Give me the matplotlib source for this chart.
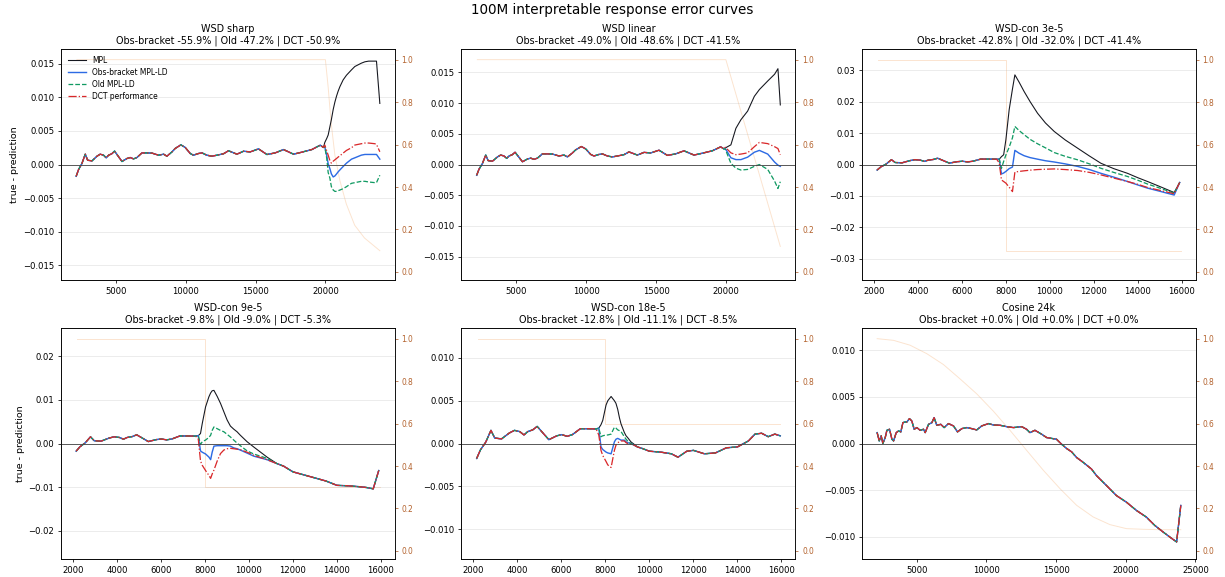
import numpy as np
import matplotlib
matplotlib.use("Agg")
import matplotlib.pyplot as plt

# ---------------- data ----------------
# shared constant-LR phase (all four curves coincide here)
const_steps = [2150, 2320, 2560, 2800, 2970, 3280, 3640, 3870, 4110, 4300, 4470, 4700, 4900,
               5070, 5430, 5790, 6020, 6260, 6500, 6860, 7220, 7580, 8050, 8410, 8650,
               9010, 9240, 9650, 9960, 10320, 10550, 10910, 11160, 11510, 11870, 12230,
               12700, 13060, 13420, 13660, 14140, 14610, 15210, 15810, 16400, 17000,
               17720, 18310, 19030, 19630, 19860]
const_err = [-0.00175, -0.00075, 0.00015, 0.00154, 0.00064, 0.00054, 0.00124, 0.00154,
             0.00139, 0.00100, 0.00139, 0.00160, 0.00200, 0.00150, 0.00045, 0.00090,
             0.00104, 0.00084, 0.00104, 0.00173, 0.00173, 0.00170, 0.00139, 0.00154,
             0.00124, 0.00188, 0.00239, 0.00293, 0.00254, 0.00164, 0.00139, 0.00164,
             0.00173, 0.00139, 0.00124, 0.00139, 0.00160, 0.00205, 0.00175, 0.00154,
             0.00198, 0.00188, 0.00233, 0.00149, 0.00173, 0.00223, 0.00154, 0.00184,
             0.00223, 0.00288, 0.00254]

# WSD sharp (after decay start)
sharp_steps = [19960, 20100, 20200, 20320, 20430, 20560, 20680, 20800, 20910, 21040, 21270,
               21510, 21870, 22110, 22580, 22830, 23100, 23540, 23660, 23900]
sharp_mpl = [0.0033, 0.0039, 0.0044, 0.0056, 0.0067, 0.0082, 0.0093, 0.0102, 0.0109, 0.0116,
             0.0126, 0.0133, 0.0141, 0.0146, 0.0151, 0.0153, 0.0154, 0.0154, 0.0154, 0.0091]
sharp_obs = [0.0026, 0.0013, 0.0001, -0.0006, -0.0014, -0.00185, -0.0017, -0.0014, -0.0011,
             -0.0008, -0.0003, 0.0002, 0.0008, 0.0010, 0.0014, 0.0015, 0.0015, 0.0015, 0.0015,
             0.0008]
sharp_old = [0.0026, 0.0009, -0.0012, -0.0020, -0.0033, -0.0038, -0.0040, -0.0040, -0.0039,
             -0.0038, -0.0036, -0.0033, -0.0028, -0.0027, -0.0025, -0.0025, -0.0026, -0.0027,
             -0.0027, -0.0016]
sharp_dct = [0.0029, 0.0020, 0.0014, 0.0006, 0.0002, 0.0005, 0.0007, 0.0009, 0.0011, 0.0013,
             0.0017, 0.0021, 0.0025, 0.0029, 0.0031, 0.0032, 0.0032, 0.0031, 0.0030, 0.0019]
sharp_lr_steps = [2200, 20000, 20200, 20400, 20680, 21040, 21500, 22100, 22800, 23900]
sharp_lr = [1.0, 1.0, 0.87, 0.71, 0.55, 0.43, 0.32, 0.22, 0.16, 0.10]

# WSD linear
linear_steps = [19960, 20360, 20720, 21080, 21560, 22040, 22400, 23000, 23490, 23730, 23900]
linear_mpl = [0.0027, 0.0032, 0.0059, 0.0073, 0.0087, 0.0111, 0.0122, 0.0136, 0.0147, 0.0156, 0.0097]
linear_obs = [0.0026, 0.0011, 0.0008, 0.0008, 0.0012, 0.0020, 0.0023, 0.0017, 0.0004, -0.0001, -0.0003]
linear_old = [0.0025, 0.0002, -0.0006, -0.0009, -0.0008, -0.0003, 0.0000, -0.0008, -0.0027, -0.0039, -0.0028]
linear_dct = [0.0028, 0.0019, 0.0016, 0.0017, 0.0019, 0.0029, 0.0036, 0.0034, 0.0029, 0.0026, 0.0016]
linear_lr_steps = [2200, 20000, 23900]
linear_lr = [1.0, 1.0, 0.12]

# WSD-con 3e-5
con3_steps = [7700, 7800, 7900, 8000, 8150, 8300, 8410, 8600, 8830, 9100, 9440, 9800, 10200,
              10700, 11260, 11800, 12320, 12900, 13530, 14000, 14440, 15000, 15650, 15900]
con3_mpl = [0.0017, 0.0025, 0.0031, 0.0078, 0.0174, 0.0240, 0.0285, 0.0262, 0.0232, 0.0200,
            0.0163, 0.0132, 0.0105, 0.0078, 0.0052, 0.0027, 0.0004, -0.0013, -0.0028, -0.0042,
            -0.0054, -0.0070, -0.0089, -0.0057]
con3_obs = [0.0017, -0.0030, -0.0027, -0.0022, -0.0013, -0.0008, 0.0045, 0.0036, 0.0028, 0.0022,
            0.0017, 0.0012, 0.0008, 0.0002, -0.0006, -0.0016, -0.0028, -0.0040, -0.0054, -0.0065,
            -0.0075, -0.0085, -0.0097, -0.0057]
con3_old = [0.0017, -0.0012, 0.0010, 0.0030, 0.0055, 0.0085, 0.0121, 0.0108, 0.0095, 0.0080,
            0.0066, 0.0053, 0.0038, 0.0026, 0.0015, 0.0002, -0.0012, -0.0025, -0.0038, -0.0050,
            -0.0062, -0.0075, -0.0091, -0.0057]
con3_dct = [0.0005, -0.0049, -0.0054, -0.0059, -0.0072, -0.0086, -0.0024, -0.0022, -0.0020, -0.0018,
            -0.0016, -0.0015, -0.0014, -0.0016, -0.0019, -0.0025, -0.0033, -0.0043, -0.0054, -0.0063,
            -0.0073, -0.0082, -0.0093, -0.0057]
con3_lr_steps = [2200, 8000, 8000, 15950]
con3_lr = [1.0, 1.0, 0.1, 0.1]

# WSD-con 9e-5
con9_steps = [7700, 7800, 7880, 8030, 8180, 8260, 8330, 8410, 8560, 8710, 8860, 9010, 9160,
              9310, 9460, 9610, 9920, 10220, 10820]
con9_mpl = [0.0018, 0.0023, 0.0046, 0.0084, 0.0107, 0.0116, 0.0121, 0.0122, 0.0108, 0.0092,
            0.0073, 0.0054, 0.0040, 0.0033, 0.0027, 0.0019, 0.0004, -0.0008, -0.0031]
con9_obs = [0.0018, -0.0017, -0.0020, -0.0024, -0.0031, -0.0037, -0.0020, -0.0006, -0.0005,
            -0.0005, -0.0005, -0.0005, -0.0006, -0.0010, -0.0012, -0.0015, -0.0022, -0.0029, -0.0037]
con9_old = [0.0018, -0.0002, 0.0004, 0.0008, 0.0014, 0.0019, 0.0030, 0.0038, 0.0034, 0.0030,
            0.0027, 0.0021, 0.0015, 0.0008, 0.0001, -0.0005, -0.0017, -0.0024, -0.0034]
con9_dct = [0.0010, -0.0040, -0.0050, -0.0062, -0.0073, -0.0080, -0.0070, -0.0061, -0.0040,
            -0.0023, -0.0015, -0.0012, -0.0011, -0.0012, -0.0013, -0.0014, -0.0020, -0.0027, -0.0037]
con9_tail_steps = [11270, 11580, 12000, 12500, 13000, 13500, 14000, 14500, 15000, 15350, 15650, 15900]
con9_tail = [-0.0046, -0.0052, -0.0065, -0.0072, -0.0079, -0.0086, -0.0096, -0.0097, -0.0099,
             -0.0101, -0.0104, -0.0062]
con9_lr_steps = [2200, 8000, 8000, 15950]
con9_lr = [1.0, 1.0, 0.3, 0.3]

# WSD-con 18e-5
con18_steps = [7700, 7800, 7880, 8030, 8110, 8260, 8410, 8480, 8560, 8640, 8710, 8860, 8940,
               9010, 9160, 9310, 9460]
con18_mpl = [0.0018, 0.0022, 0.0027, 0.0045, 0.0050, 0.0055, 0.0050, 0.0047, 0.0040, 0.0030,
             0.0023, 0.0013, 0.0009, 0.0007, 0.0002, -0.0001, -0.0004]
con18_obs = [0.0018, -0.0004, -0.0007, -0.0010, -0.0011, -0.0012, 0.0002, 0.0005, 0.0006, 0.0005,
             0.0004, 0.0004, 0.0002, 0.0001, 0.0000, -0.0002, -0.0004]
con18_old = [0.0018, 0.0008, 0.0009, 0.0010, 0.0010, 0.0011, 0.0019, 0.0018, 0.0016, 0.0015,
             0.0014, 0.0008, 0.0005, 0.0003, 0.0000, -0.0002, -0.0004]
con18_dct = [0.0010, -0.0008, -0.0014, -0.0021, -0.0025, -0.0028, -0.0008, -0.0002, 0.0001, 0.0002,
             0.0003, 0.0003, 0.0001, 0.0000, -0.0001, -0.0002, -0.0004]
con18_tail_steps = [9700, 10000, 10500, 11000, 11300, 11700, 12000, 12500, 13000, 13500, 14000,
                    14500, 14800, 15100, 15400, 15700, 15950]
con18_tail = [-0.0006, -0.0009, -0.0010, -0.0012, -0.0016, -0.0009, -0.0008, -0.0012, -0.0011,
              -0.0005, -0.0004, 0.0003, 0.0011, 0.0012, 0.0008, 0.0011, 0.0009]
con18_lr_steps = [2200, 8000, 8000, 15950]
con18_lr = [1.0, 1.0, 0.6, 0.6]

# Cosine 24k (all four curves coincide)
cos_steps = [2150, 2300, 2440, 2560, 2730, 2850, 3040, 3210, 3330, 3520, 3690, 3850, 4000,
             4160, 4280, 4470, 4640, 4810, 5000, 5240, 5480, 5600, 5840, 6080, 6240, 6430,
             6720, 6960, 7270, 7630, 7920, 8230, 8580, 8940, 9300, 9660, 10140, 10500, 10970,
             11450, 11930, 12530, 12880, 13120, 13480, 13960, 14320, 15030, 15390, 15750,
             16110, 16470, 16950, 17540, 17900, 18620, 19330, 20050, 20770, 21480, 22080,
             22680, 23160, 23650, 23950]
cos_err = [0.00117, 0.00028, 0.00082, 0.0, 0.00064, 0.00142, 0.00153, 0.00046, 0.00028, 0.00117,
           0.00135, 0.00125, 0.00224, 0.00231, 0.00231, 0.00267, 0.00242, 0.00153, 0.00171,
           0.00142, 0.00153, 0.00117, 0.00206, 0.00224, 0.00278, 0.00196, 0.00206, 0.00171,
           0.00214, 0.00189, 0.00125, 0.0016, 0.00171, 0.0016, 0.00146, 0.00189, 0.00214,
           0.00199, 0.00196, 0.00181, 0.00171, 0.00181, 0.00153, 0.00117, 0.00142, 0.0010,
           0.00064, 0.00046, -0.00007, -0.00053, -0.00089, -0.0015, -0.00203, -0.00274,
           -0.00345, -0.00452, -0.00559, -0.0063, -0.00719, -0.0079, -0.00879, -0.0095,
           -0.01004, -0.01057, -0.00665]
cos_lr_steps = [2150, 3330, 4520, 5720, 6910, 8110, 9300, 10500, 11690, 12880, 14080, 15270,
                16470, 17660, 18860, 20050, 21250, 22440, 23950]
cos_lr = [1.0, 0.992, 0.969, 0.929, 0.878, 0.81, 0.74, 0.658, 0.568, 0.474, 0.38, 0.294,
          0.215, 0.16, 0.124, 0.105, 0.102, 0.10, 0.10]

titles = ["WSD sharp", "WSD linear", "WSD-con 3e-5", "WSD-con 9e-5", "WSD-con 18e-5", "Cosine 24k"]
obs_pct = [-55.9, -49.0, -42.8, -9.8, -12.8, 0.0]
old_pct = [-47.2, -48.6, -32.0, -9.0, -11.1, 0.0]
dct_pct = [-50.9, -41.5, -41.4, -5.3, -8.5, 0.0]
ylims = [0.0172, 0.0188, 0.0367, 0.0265, 0.0135, 0.0124]
labels = ["MPL", "Obs-bracket MPL-LD", "Old MPL-LD", "DCT performance"]


# ---------------- helpers ----------------
def build(br_steps, br_vals, tail_steps=(), tail_vals=()):
    cs = np.array(const_steps)
    ce = np.array(const_err)
    m = cs < br_steps[0]
    x = np.concatenate([cs[m], br_steps, tail_steps])
    y = np.concatenate([ce[m], br_vals, tail_vals])
    return x, y


panels = [
    dict(series=[build(sharp_steps, v) for v in (sharp_mpl, sharp_obs, sharp_old, sharp_dct)],
         lr=(sharp_lr_steps, sharp_lr)),
    dict(series=[build(linear_steps, v) for v in (linear_mpl, linear_obs, linear_old, linear_dct)],
         lr=(linear_lr_steps, linear_lr)),
    dict(series=[build(con3_steps, v) for v in (con3_mpl, con3_obs, con3_old, con3_dct)],
         lr=(con3_lr_steps, con3_lr)),
    dict(series=[build(con9_steps, v, con9_tail_steps, con9_tail)
                 for v in (con9_mpl, con9_obs, con9_old, con9_dct)],
         lr=(con9_lr_steps, con9_lr)),
    dict(series=[build(con18_steps, v, con18_tail_steps, con18_tail)
                 for v in (con18_mpl, con18_obs, con18_old, con18_dct)],
         lr=(con18_lr_steps, con18_lr)),
    dict(series=[(np.array(cos_steps), np.array(cos_err))] * 4,
         lr=(cos_lr_steps, cos_lr)),
]

styles = [
    dict(color="#15171f", lw=1.15, ls="-"),
    dict(color="#2d6be4", lw=1.5, ls="-"),
    dict(color="#109a62", lw=1.35, ls="--"),
    dict(color="#d9282a", lw=1.35, ls="-."),
]

fig, axes = plt.subplots(2, 3, figsize=(1225 / 68, 577 / 68), dpi=68)
fig.subplots_adjust(left=0.0498, right=0.9763, bottom=0.0312, top=0.915,
                    wspace=0.199, hspace=0.208)

for i, ax in enumerate(axes.flat):
    p = panels[i]
    ax2 = ax.twinx()
    ax2.plot(p["lr"][0], p["lr"][1], color="sandybrown", alpha=0.3, lw=1.0)
    ax2.set_ylim(-0.038, 1.05)
    ax2.tick_params(axis="y", colors="#b3622d", labelsize=8)
    ax2.spines["right"].set_color("#333333")
    ax.set_zorder(ax2.get_zorder() + 1)
    ax.patch.set_visible(False)

    for (x, y), st, lab in zip(p["series"], styles, labels):
        ax.plot(x, y, label=lab, **st)
    ax.axhline(0, color="#444444", lw=0.9)
    ax.set_ylim(-ylims[i], ylims[i])
    ax.grid(axis="y", alpha=0.3)
    ax.tick_params(labelsize=9)
    ax.set_title(f"{titles[i]}\nObs-bracket {obs_pct[i]:+.1f}% | Old {old_pct[i]:+.1f}% | "
                 f"DCT {dct_pct[i]:+.1f}%", fontsize=10.2)
    if i % 3 == 0:
        ax.set_ylabel("true - prediction", fontsize=10)
    if i == 0:
        ax.legend(loc="upper left", frameon=False, fontsize=8, handlelength=2.4,
                  labelspacing=0.4)

fig.suptitle("100M interpretable response error curves", fontsize=14.3, y=0.995, va="top")
fig.savefig("out.png", dpi=68)
